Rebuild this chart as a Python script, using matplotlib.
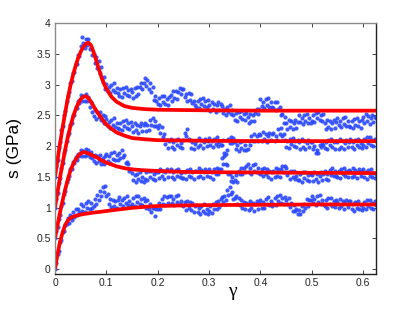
import numpy as np
import matplotlib
matplotlib.use("Agg")
import matplotlib.pyplot as plt

# ---------------- data ----------------
# measured stress (GPa), sampled every 0.0025 in strain from 0 to 0.625
s_bottom = [
    0.00, 0.10, 0.24, 0.30, 0.44, 0.47, 0.60, 0.62, 0.72, 0.73,
    0.83, 0.75, 0.88, 0.80, 0.93, 0.85, 0.98, 0.88, 0.97, 0.92,
    1.06, 0.94, 1.02, 0.93, 1.07, 0.99, 1.10, 0.98, 1.07, 0.99,
    1.02, 1.14, 1.05, 1.21, 1.13, 1.27, 1.19, 1.34, 1.25, 1.35,
    1.18, 1.22, 1.06, 1.14, 1.01, 1.13, 1.02, 1.10, 1.00, 1.12,
    1.17, 1.05, 1.12, 1.02, 1.16, 1.07, 1.18, 1.04, 1.11, 1.03,
    1.05, 1.15, 1.03, 1.18, 1.09, 1.19, 1.06, 1.14, 1.04, 1.16,
    1.11, 1.00, 1.12, 0.98, 1.05, 0.92, 1.00, 0.99, 0.86, 0.97,
    0.97, 1.07, 0.98, 1.14, 1.05, 1.18, 1.04, 1.17, 1.07, 1.18,
    1.19, 1.07, 1.14, 1.04, 1.18, 1.09, 1.20, 1.06, 1.11, 1.04,
    1.02, 1.09, 0.96, 1.10, 0.99, 1.09, 0.96, 1.07, 0.93, 1.02,
    1.04, 0.92, 0.99, 0.89, 1.03, 0.94, 1.05, 0.91, 0.98, 0.90,
    0.94, 1.02, 0.91, 1.06, 0.98, 1.09, 0.98, 1.10, 1.01, 1.14,
    1.17, 1.09, 1.18, 1.13, 1.29, 1.20, 1.33, 1.22, 1.26, 1.14,
    1.15, 1.19, 1.05, 1.15, 1.04, 1.13, 1.00, 1.09, 0.98, 1.08,
    1.06, 0.96, 1.11, 0.99, 1.08, 0.95, 1.05, 1.10, 0.98, 1.07,
    1.12, 1.00, 1.09, 0.99, 1.14, 1.05, 1.17, 1.04, 1.11, 1.03,
    1.06, 1.16, 1.04, 1.19, 1.10, 1.20, 1.07, 1.15, 1.05, 1.17,
    1.13, 1.05, 1.16, 1.01, 1.07, 0.95, 1.04, 0.94, 0.98, 0.89,
    0.96, 0.89, 1.02, 0.94, 1.06, 0.99, 1.14, 1.03, 1.13, 1.12,
    1.19, 1.07, 1.14, 1.04, 1.18, 1.09, 1.20, 1.06, 1.13, 1.05,
    1.02, 1.12, 1.00, 1.15, 1.06, 1.16, 1.03, 1.11, 1.01, 1.13,
    1.09, 0.99, 1.14, 1.02, 1.11, 0.98, 1.08, 1.13, 1.01, 1.10,
    1.10, 0.98, 1.05, 0.95, 1.09, 1.00, 1.11, 0.97, 1.04, 0.96,
    0.99, 1.09, 0.97, 1.12, 1.03, 1.13, 1.00, 1.08, 0.98, 1.10,
    1.04,
]
s_third = [
    0.50, 0.62, 0.69, 0.82, 0.88, 1.03, 1.08, 1.22, 1.27, 1.41,
    1.47, 1.52, 1.62, 1.63, 1.74, 1.72, 1.82, 1.78, 1.87, 1.83,
    1.93, 1.84, 1.92, 1.83, 1.95, 1.85, 1.94, 1.82, 1.90, 1.80,
    1.76, 1.86, 1.72, 1.84, 1.75, 1.85, 1.71, 1.81, 1.70, 1.83,
    1.87, 1.75, 1.83, 1.73, 1.88, 1.79, 1.91, 1.78, 1.86, 1.78,
    1.89, 1.80, 1.93, 1.82, 1.86, 1.72, 1.74, 1.71, 1.59, 1.62,
    1.56, 1.44, 1.53, 1.41, 1.55, 1.46, 1.57, 1.43, 1.50, 1.42,
    1.47, 1.57, 1.44, 1.59, 1.50, 1.60, 1.47, 1.55, 1.45, 1.57,
    1.58, 1.48, 1.63, 1.51, 1.60, 1.47, 1.57, 1.62, 1.50, 1.59,
    1.62, 1.50, 1.57, 1.47, 1.61, 1.52, 1.63, 1.49, 1.56, 1.48,
    1.48, 1.58, 1.46, 1.61, 1.52, 1.62, 1.49, 1.57, 1.47, 1.59,
    1.59, 1.49, 1.64, 1.52, 1.61, 1.48, 1.58, 1.63, 1.51, 1.60,
    1.62, 1.50, 1.57, 1.47, 1.62, 1.54, 1.65, 1.55, 1.63, 1.62,
    1.80, 1.71, 1.84, 1.70, 1.69, 1.54, 1.55, 1.43, 1.50, 1.42,
    1.45, 1.53, 1.42, 1.59, 1.54, 1.64, 1.54, 1.65, 1.57, 1.67,
    1.70, 1.58, 1.65, 1.55, 1.69, 1.60, 1.71, 1.57, 1.64, 1.56,
    1.54, 1.63, 1.51, 1.65, 1.55, 1.63, 1.49, 1.59, 1.47, 1.58,
    1.59, 1.50, 1.64, 1.52, 1.62, 1.50, 1.62, 1.67, 1.58, 1.67,
    1.65, 1.53, 1.58, 1.46, 1.59, 1.49, 1.60, 1.46, 1.52, 1.45,
    1.44, 1.54, 1.42, 1.57, 1.48, 1.58, 1.45, 1.53, 1.43, 1.55,
    1.53, 1.43, 1.58, 1.46, 1.55, 1.42, 1.52, 1.57, 1.45, 1.54,
    1.59, 1.47, 1.55, 1.45, 1.61, 1.53, 1.64, 1.52, 1.59, 1.51,
    1.50, 1.60, 1.48, 1.63, 1.54, 1.64, 1.51, 1.59, 1.49, 1.61,
    1.59, 1.49, 1.64, 1.52, 1.61, 1.48, 1.58, 1.63, 1.51, 1.60,
    1.62, 1.50, 1.57, 1.47, 1.61, 1.52, 1.63, 1.49, 1.56, 1.48,
    1.55,
]
s_second = [
    1.00, 1.14, 1.23, 1.40, 1.48, 1.65, 1.72, 1.88, 1.93, 2.08,
    2.18, 2.22, 2.35, 2.38, 2.50, 2.50, 2.63, 2.62, 2.74, 2.70,
    2.83, 2.74, 2.82, 2.73, 2.84, 2.73, 2.80, 2.63, 2.71, 2.55,
    2.49, 2.58, 2.44, 2.56, 2.47, 2.56, 2.42, 2.51, 2.38, 2.49,
    2.44, 2.32, 2.39, 2.29, 2.43, 2.34, 2.45, 2.31, 2.38, 2.30,
    2.28, 2.38, 2.26, 2.41, 2.32, 2.42, 2.29, 2.37, 2.27, 2.39,
    2.33, 2.23, 2.38, 2.26, 2.35, 2.22, 2.32, 2.37, 2.25, 2.34,
    2.37, 2.25, 2.34, 2.26, 2.43, 2.35, 2.45, 2.32, 2.40, 2.32,
    2.29, 2.35, 2.21, 2.31, 2.14, 2.20, 2.03, 2.10, 1.97, 2.08,
    2.11, 1.99, 2.06, 1.96, 2.10, 2.01, 2.12, 1.98, 2.05, 1.97,
    2.10, 2.22, 2.17, 2.28, 2.12, 2.10, 1.97, 2.07, 1.95, 2.04,
    2.08, 1.98, 2.13, 2.01, 2.10, 1.97, 2.07, 2.12, 2.00, 2.09,
    2.13, 2.01, 2.08, 1.98, 2.12, 2.03, 2.14, 2.00, 2.07, 2.01,
    2.02, 2.10, 1.88, 1.87, 1.93, 2.11, 2.05, 2.14, 2.05, 2.13,
    2.07, 1.95, 2.02, 1.92, 2.06, 1.97, 2.08, 1.94, 2.01, 1.93,
    1.96, 2.08, 2.01, 2.16, 2.09, 2.19, 2.08, 2.16, 2.08, 2.20,
    2.18, 2.08, 2.23, 2.11, 2.20, 2.07, 2.17, 2.22, 2.10, 2.19,
    2.21, 2.09, 2.17, 2.10, 2.27, 2.19, 2.29, 2.16, 2.19, 2.10,
    1.99, 2.09, 1.97, 2.12, 2.03, 2.13, 2.00, 2.08, 1.98, 2.10,
    2.06, 1.96, 2.11, 1.99, 2.08, 1.95, 2.05, 2.10, 1.98, 2.07,
    2.07, 1.95, 2.00, 1.88, 1.93, 1.89, 2.02, 1.99, 2.04, 2.01,
    1.97, 2.07, 1.95, 2.10, 2.01, 2.11, 1.98, 2.06, 1.96, 2.08,
    2.06, 1.96, 2.11, 1.99, 2.08, 1.95, 2.05, 2.10, 1.98, 2.07,
    2.11, 1.99, 2.06, 1.96, 2.10, 2.01, 2.12, 1.98, 2.05, 1.97,
    2.01, 2.11, 1.99, 2.14, 2.05, 2.15, 2.02, 2.10, 2.00, 2.12,
    2.08,
]
s_top = [
    1.50, 1.68, 1.78, 1.98, 2.07, 2.26, 2.32, 2.51, 2.57, 2.74,
    2.82, 2.88, 3.03, 3.05, 3.18, 3.20, 3.34, 3.34, 3.48, 3.47,
    3.62, 3.78, 3.67, 3.60, 3.74, 3.65, 3.74, 3.57, 3.60, 3.48,
    3.50, 3.35, 3.45, 3.27, 3.38, 3.18, 3.28, 3.04, 3.12, 2.93,
    3.01, 2.89, 2.96, 2.86, 3.00, 2.91, 3.02, 2.88, 2.95, 2.87,
    2.82, 2.92, 2.80, 2.95, 2.86, 2.96, 2.83, 2.91, 2.81, 2.93,
    2.88, 2.78, 2.94, 2.82, 2.96, 2.84, 2.96, 3.02, 2.92, 3.02,
    3.10, 2.98, 3.07, 2.93, 3.03, 2.88, 2.96, 2.75, 2.81, 2.74,
    2.68, 2.78, 2.66, 2.81, 2.72, 2.82, 2.69, 2.77, 2.67, 2.79,
    2.83, 2.73, 2.90, 2.78, 2.89, 2.76, 2.88, 2.94, 2.84, 2.93,
    2.92, 2.80, 2.85, 2.74, 2.86, 2.75, 2.84, 2.70, 2.74, 2.67,
    2.64, 2.74, 2.62, 2.77, 2.68, 2.78, 2.65, 2.73, 2.63, 2.75,
    2.67, 2.57, 2.72, 2.60, 2.69, 2.56, 2.66, 2.71, 2.59, 2.68,
    2.65, 2.53, 2.60, 2.50, 2.64, 2.55, 2.66, 2.52, 2.59, 2.51,
    2.43, 2.53, 2.41, 2.56, 2.47, 2.57, 2.44, 2.52, 2.42, 2.54,
    2.47, 2.37, 2.52, 2.40, 2.51, 2.41, 2.53, 2.60, 2.52, 2.61,
    2.77, 2.65, 2.72, 2.62, 2.76, 2.67, 2.78, 2.64, 2.71, 2.63,
    2.62, 2.72, 2.58, 2.71, 2.60, 2.63, 2.50, 2.52, 2.37, 2.47,
    2.38, 2.28, 2.43, 2.31, 2.40, 2.27, 2.37, 2.42, 2.30, 2.39,
    2.51, 2.39, 2.46, 2.36, 2.50, 2.41, 2.52, 2.38, 2.45, 2.37,
    2.41, 2.51, 2.39, 2.54, 2.45, 2.55, 2.42, 2.50, 2.40, 2.52,
    2.38, 2.28, 2.43, 2.31, 2.40, 2.27, 2.37, 2.42, 2.30, 2.39,
    2.46, 2.34, 2.41, 2.31, 2.45, 2.36, 2.47, 2.33, 2.40, 2.32,
    2.31, 2.41, 2.29, 2.44, 2.35, 2.45, 2.32, 2.40, 2.30, 2.42,
    2.47, 2.37, 2.52, 2.40, 2.49, 2.36, 2.46, 2.51, 2.39, 2.48,
    2.45,
]

# fitted model curves
gamma_fit = [0, 0.005, 0.01, 0.015, 0.02, 0.025, 0.03, 0.035, 0.04, 0.045,
             0.05, 0.055, 0.06, 0.065, 0.07, 0.075, 0.08, 0.085, 0.09, 0.095,
             0.1, 0.11, 0.12, 0.135, 0.15, 0.175, 0.2, 0.25, 0.3, 0.4, 0.5, 0.625]
fit_top = [1.5, 1.78, 2.05, 2.31, 2.55, 2.78, 2.98, 3.15, 3.3, 3.43,
           3.53, 3.61, 3.66, 3.68, 3.64, 3.53, 3.4, 3.26, 3.13, 3.02,
           2.93, 2.8, 2.72, 2.65, 2.62, 2.6, 2.59, 2.585, 2.58, 2.575, 2.575, 2.575]
fit_second = [1.0, 1.26, 1.5, 1.73, 1.95, 2.15, 2.32, 2.47, 2.59, 2.69,
              2.76, 2.8, 2.81, 2.78, 2.72, 2.65, 2.58, 2.52, 2.46, 2.4,
              2.35, 2.28, 2.22, 2.17, 2.13, 2.11, 2.095, 2.09, 2.085, 2.08, 2.08, 2.08]
fit_third = [0.5, 0.72, 0.93, 1.12, 1.3, 1.46, 1.6, 1.7, 1.78, 1.84,
             1.88, 1.9, 1.895, 1.88, 1.86, 1.84, 1.82, 1.8, 1.77, 1.75,
             1.73, 1.7, 1.67, 1.64, 1.62, 1.605, 1.595, 1.58, 1.575, 1.57, 1.565, 1.56]
fit_bottom = [0.0, 0.25, 0.45, 0.6, 0.72, 0.79, 0.83, 0.85, 0.865, 0.875,
              0.885, 0.893, 0.9, 0.906, 0.912, 0.918, 0.923, 0.928, 0.933, 0.938,
              0.943, 0.955, 0.965, 0.98, 0.995, 1.012, 1.025, 1.035, 1.04, 1.045, 1.05, 1.05]

x_ticks = [0, 0.1, 0.2, 0.3, 0.4, 0.5, 0.6]
x_tick_labels = ["0", "0.1", "0.2", "0.3", "0.4", "0.5", "0.6"]
y_ticks = [0, 0.5, 1, 1.5, 2, 2.5, 3, 3.5, 4]
y_tick_labels = ["0", "0.5", "1", "1.5", "2", "2.5", "3", "3.5", "4"]

# ---------------- figure ----------------
plt.rcParams['font.family'] = ['Liberation Sans', 'DejaVu Sans']
W, H = 415, 309
fig = plt.figure(figsize=(W / 100, H / 100), dpi=100)
ax = fig.add_axes([55 / W, 1 - 274 / H, 321 / W, 251 / H])

gamma = np.linspace(0, 0.625, len(s_top))
for series in (s_bottom, s_third, s_second, s_top):
    ax.plot(gamma, series, linestyle='none', marker='o', markersize=3.0,
            markeredgewidth=0, color='#2a48ff', alpha=0.9)

for fit in (fit_bottom, fit_third, fit_second, fit_top):
    ax.plot(gamma_fit, fit, color='#ff0000', linewidth=2.7, solid_capstyle='butt')

ax.set_xlim(0, 0.625)
ax.set_ylim(-0.08, 4)
ax.set_xticks(x_ticks)
ax.set_xticklabels(x_tick_labels)
ax.set_yticks(y_ticks)
ax.set_yticklabels(y_tick_labels)
ax.tick_params(direction='in', length=3, width=0.6, labelsize=7.5,
               top=True, right=True, colors='#222222', pad=3)

for side in ('left', 'top'):
    ax.spines[side].set_color('#8a8a8a')
    ax.spines[side].set_linewidth(1.0)
for side in ('right', 'bottom'):
    ax.spines[side].set_color('#222222')
    ax.spines[side].set_linewidth(1.0)

ax.set_ylabel('s (GPa)', fontsize=12.5)
ax.yaxis.set_label_coords(-(55 - 22) / 321, 0.5)
ax.set_xlabel('γ', fontsize=14, family=['Liberation Serif', 'DejaVu Serif'])
ax.xaxis.set_label_coords((232 - 55) / 321, -(283 - 274) / 251)

fig.savefig('out.png', dpi=100)
